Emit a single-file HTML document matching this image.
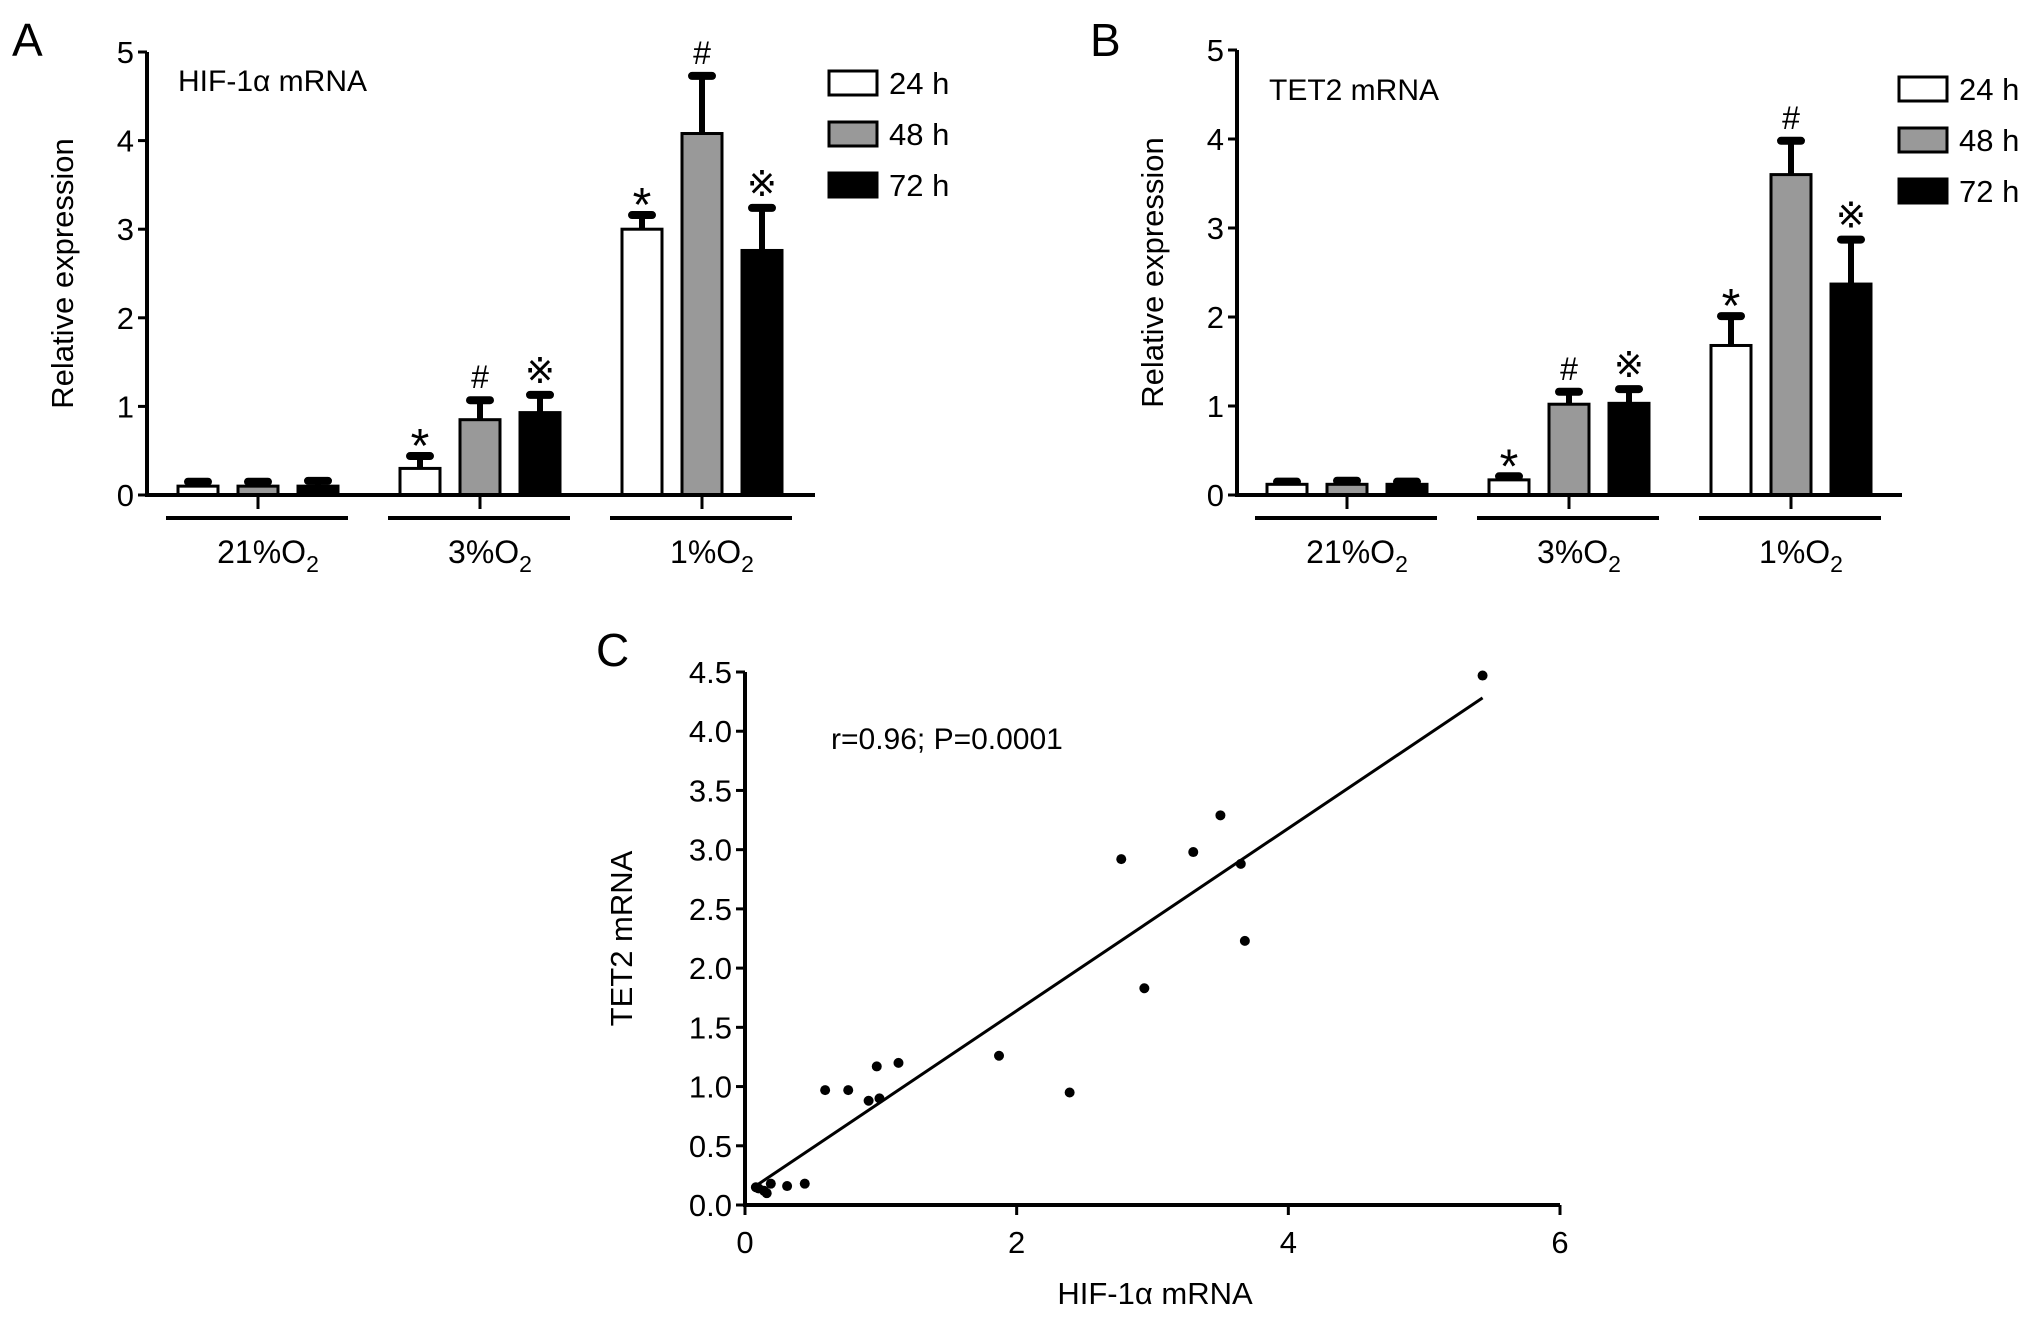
<!DOCTYPE html>
<html><head><meta charset="utf-8"><style>
body{margin:0;background:#fff}
svg{display:block;font-family:"Liberation Sans",Arial,sans-serif}
</style></head><body>
<svg id="fig" width="2032" height="1321" viewBox="0 0 2032 1321"></svg>
<script>
// ---- Panel A/B data ----
const groups = ["21%O2","3%O2","1%O2"];
const series = ["24 h","48 h","72 h"];
const hifMeans = [[0.10,0.10,0.10],[0.30,0.85,0.93],[3.00,4.08,2.76]];
const hifErrs  = [[0.05,0.05,0.06],[0.14,0.22,0.20],[0.16,0.65,0.48]];
const tetMeans = [[0.12,0.12,0.12],[0.17,1.02,1.03],[1.68,3.60,2.37]];
const tetErrs  = [[0.03,0.04,0.03],[0.04,0.14,0.16],[0.33,0.38,0.50]];
const hifMarks = [["","",""],["*","#","※"],["*","#","※"]];
const tetMarks = [["","",""],["*","#","※"],["*","#","※"]];
const barTicks = [0,1,2,3,4,5];
// ---- Panel C data ----
const scX = [5.43,3.50,3.30,2.77,3.65,3.68,2.94,1.87,2.39,1.13,0.97,0.59,0.76,0.91,0.99,0.44,0.31,0.19,0.10,0.14,0.16,0.08];
const scY = [4.47,3.29,2.98,2.92,2.88,2.23,1.83,1.26,0.95,1.20,1.17,0.97,0.97,0.88,0.90,0.18,0.16,0.18,0.14,0.12,0.10,0.15];
const fitSlope = 0.77, fitIntercept = 0.10, fitRange = [0.10,5.43];
const cXTicks = [0,2,4,6];
const cYTicks = [0,0.5,1,1.5,2,2.5,3,3.5,4,4.5];

const NS="http://www.w3.org/2000/svg";
const svg=document.getElementById('fig');
function el(tag,attrs,parent,text){const e=document.createElementNS(NS,tag);for(const k in attrs)e.setAttribute(k,attrs[k]);if(text!==undefined)e.textContent=text;(parent||svg).appendChild(e);return e;}

function barPanel(o){
  const g=el('g',{});
  
  
  const y=v=>o.y0-v*(o.y0-o.y5)/5;
  const fills=["#ffffff","#999999","#000000"];
  const L=el('text',{x:o.letterX,y:56,'font-size':46},g,o.letter);
  
  
  o.means.forEach((grp,gi)=>{
    const gc=o.gx0+gi*222;
    grp.forEach((v,si)=>{
      const cx=gc+(si-1)*60;
      const top=y(v+o.errs[gi][si]);
      const eb=el('line',{x1:cx,x2:cx,y1:y(v),y2:top,stroke:'#000','stroke-width':6},g);
      
      
      const cap=el('line',{x1:cx-10,x2:cx+10,y1:top,y2:top,stroke:'#000','stroke-width':8,'stroke-linecap':'round'},g);
      
      
      const r=el('rect',{x:cx-20,y:y(v),width:40,height:y(0)-y(v),fill:fills[si],stroke:'#000','stroke-width':3},g);
      
      
      const m=o.marks[gi][si];
      if(m){const t=el('text',{x:cx,y:top-12+(m==='*'?18:0),'text-anchor':'middle','font-size':m==='*'?48:(m==='#'?32:36)},g,m);
        
        }
    });
    const tk=el('line',{x1:gc,x2:gc,y1:o.y0,y2:o.y0+14,stroke:'#000','stroke-width':3},g);
    
    
    const gl=el('line',{x1:gc-92,x2:gc+90,y1:o.y0+23,y2:o.y0+23,stroke:'#000','stroke-width':4},g);
    
    
    const lab=el('text',{x:gc+10,y:o.y0+68,'text-anchor':'middle','font-size':32},g);
    
    
    const num=groups[gi].replace('O2','');
    el('tspan',{},lab,num+'O');
    el('tspan',{'font-size':23,dy:9},lab,'2');
  });
  const ax=el('path',{d:`M${o.ax},${o.y5} V${o.y0} H${o.axEnd}`,fill:'none',stroke:'#000','stroke-width':4},g);
  
  
  barTicks.forEach(t=>{
    const tl=el('line',{x1:o.ax-9,x2:o.ax,y1:y(t),y2:y(t),stroke:'#000','stroke-width':3},g);
    
    
    const tt=el('text',{x:o.ax-13,y:y(t)+11,'text-anchor':'end','font-size':31},g,String(t));
    
    
  });
  const yl=el('text',{x:0,y:0,transform:`translate(${o.ax-74},${(o.y0+o.y5)/2}) rotate(-90)`,'text-anchor':'middle','font-size':31},g,'Relative expression');
  
  
  const ti=el('text',{x:o.titleX,y:o.titleY,'font-size':30},g,o.title);
  
  
  series.forEach((s,si)=>{
    const by=o.legY+si*51;
    const lb=el('rect',{x:o.legX,y:by,width:48,height:24,fill:fills[si],stroke:'#000','stroke-width':3},g);
    
    
    const lt=el('text',{x:o.legX+60,y:by+23,'font-size':31},g,s);
    
    
  });
}
barPanel({name:'panel-a-hif1a',letter:'A',letterX:12,ax:147,y0:495,y5:52,axEnd:815,gx0:258,means:hifMeans,errs:hifErrs,marks:hifMarks,title:'HIF-1α mRNA',titleX:178,titleY:91,legX:829,legY:71});
barPanel({name:'panel-b-tet2',letter:'B',letterX:1090,ax:1237,y0:495,y5:50,axEnd:1902,gx0:1347,means:tetMeans,errs:tetErrs,marks:tetMarks,title:'TET2 mRNA',titleX:1269,titleY:100,legX:1899,legY:77});

// ---- Panel C ----
(function(){
  const g=el('g',{});
  
  
  const x0=745,x6=1560,y0=1205,y45=672;
  const X=v=>x0+v*(x6-x0)/6, Y=v=>y0-v*(y0-y45)/4.5;
  const L=el('text',{x:596,y:666,'font-size':46},g,'C');
  
  
  const ax=el('path',{d:`M${x0},${y45} V${y0} H${x6}`,fill:'none',stroke:'#000','stroke-width':4},g);
  
  
  cYTicks.forEach(t=>{
    const tl=el('line',{x1:x0-9,x2:x0,y1:Y(t),y2:Y(t),stroke:'#000','stroke-width':3},g);
    
    
    const tt=el('text',{x:x0-13,y:Y(t)+11,'text-anchor':'end','font-size':31},g,t.toFixed(1));
    
    
  });
  cXTicks.forEach(t=>{
    const tl=el('line',{x1:X(t),x2:X(t),y1:y0,y2:y0+10,stroke:'#000','stroke-width':3},g);
    
    
    const tt=el('text',{x:X(t),y:y0+48,'text-anchor':'middle','font-size':31},g,String(t));
    
    
  });
  const fl=el('line',{x1:X(fitRange[0]),y1:Y(fitIntercept+fitSlope*fitRange[0]),x2:X(fitRange[1]),y2:Y(fitIntercept+fitSlope*fitRange[1]),stroke:'#000','stroke-width':3},g);
  
  
  scX.forEach((v,i)=>{
    const c=el('circle',{cx:X(v),cy:Y(scY[i]),r:5,fill:'#000'},g);
    
    
  });
  const st=el('text',{x:831,y:749,'font-size':30},g,'r=0.96; P=0.0001');
  
  
  const yl=el('text',{x:0,y:0,transform:`translate(632,${(y0+y45)/2}) rotate(-90)`,'text-anchor':'middle','font-size':31},g,'TET2 mRNA');
  
  
  const xl=el('text',{x:1155,y:1304,'text-anchor':'middle','font-size':31},g,'HIF-1α mRNA');
  
  
})();
</script>
</body></html>
